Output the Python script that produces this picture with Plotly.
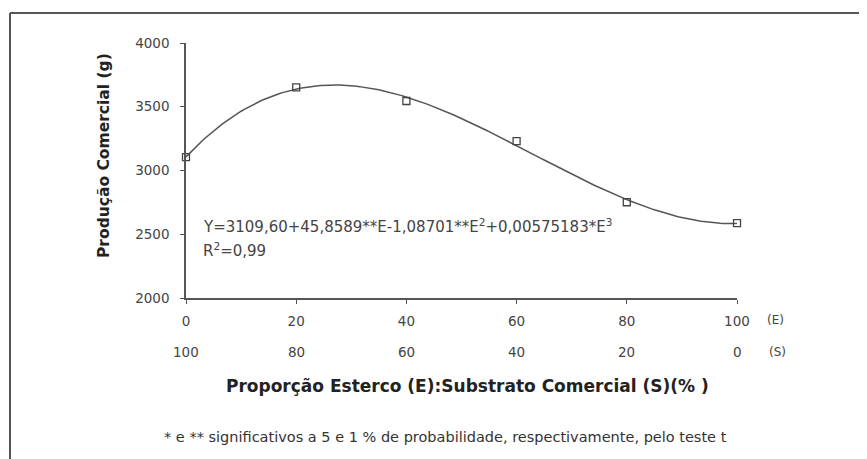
import numpy as np
import plotly.graph_objects as go

# Data
esterco = [0, 20, 40, 60, 80, 100]          # (E) %
substrato = [100, 80, 60, 40, 20, 0]        # (S) %
producao = [3105, 3652, 3545, 3231, 2751, 2588]  # Produção comercial (g)
y_ticks = [2000, 2500, 3000, 3500, 4000]

equation = "Y=3109,60+45,8589**E-1,08701**E<sup>2</sup>+0,00575183*E<sup>3</sup>"
r2_text = "R<sup>2</sup>=0,99"
x_title = "Proporção Esterco (E):Substrato Comercial (S)(% )"
y_title = "Produção Comercial (g)"
footnote = "* e ** significativos a 5 e 1 % de probabilidade, respectivamente, pelo teste t"

# Cubic trendline fitted to the data
coef = np.polyfit(esterco, producao, 3)
xf = np.linspace(0, 100, 201)
yf = np.polyval(coef, xf)

OFF = 8  # page body margin
W, H = 867 - OFF, 459 - OFF
# plot area in reference pixels: x 186..737, y 43..298
L, R, T, B = 186 - OFF, 867 - 737, 43 - OFF, 459 - 298
pw, ph = W - L - R, H - T - B

def px(x):
    return (x - OFF - L) / pw

def py(y):
    return (H - B - (y - OFF)) / ph

fig = go.Figure()
fig.add_trace(go.Scatter(x=xf, y=yf, mode="lines",
                         line=dict(color="#555555", width=1.5),
                         hoverinfo="skip", showlegend=False))
fig.add_trace(go.Scatter(x=esterco, y=producao, mode="markers",
                         marker=dict(symbol="square-open", size=7,
                                     color="#444444", line=dict(width=1.3)),
                         cliponaxis=False, showlegend=False))

font_fam = "DejaVu Sans"
tick_col = "#444444"
tick_size = 13.5

def ann(x, y, text, size, color=tick_col, xanchor="center", xref="paper", **kw):
    return dict(x=x, y=y, xref=xref, yref="paper", text=text, showarrow=False,
                xanchor=xanchor, yanchor="middle",
                font=dict(family=font_fam, size=size, color=color), **kw)

annotations = []
for xv, s in zip(esterco, substrato):
    annotations.append(ann(xv, py(352), str(s), tick_size, xref="x"))
annotations += [
    ann(px(775), py(320), "(E)", 12),
    ann(px(777), py(352), "(S)", 12),
    ann(px(467), py(386), "<b>" + x_title + "</b>", 17, color="#222222"),
    ann(px(104), py(156), "<b>" + y_title + "</b>", 15.5, color="#222222", textangle=-90),
    ann(px(201), py(226), equation, 15, xanchor="left"),
    ann(px(201), py(250), r2_text, 15, xanchor="left"),
    ann(px(445), py(437), footnote, 14.5, color="#333333"),
]

shapes = [
    dict(type="line", xref="paper", yref="paper", x0=px(10), x1=px(866),
         y0=py(13), y1=py(13), line=dict(color="#555555", width=2)),
    dict(type="line", xref="paper", yref="paper", x0=px(10), x1=px(10),
         y0=py(13), y1=py(470), line=dict(color="#555555", width=2)),
]

fig.update_layout(
    width=W, height=H,
    margin=dict(l=L, r=R, t=T, b=B),
    paper_bgcolor="white", plot_bgcolor="white",
    xaxis=dict(range=[0, 100], tickvals=esterco, ticktext=[str(e) for e in esterco],
               showgrid=False, zeroline=False, showline=True,
               linecolor="#555555", linewidth=1.5,
               ticks="outside", ticklen=4, tickcolor="#555555",
               tickfont=dict(family=font_fam, size=tick_size, color=tick_col),
               ticklabelstandoff=6),
    yaxis=dict(range=[2000, 4000], tickvals=y_ticks,
               showgrid=False, zeroline=False, showline=True,
               linecolor="#555555", linewidth=1.5,
               ticks="outside", ticklen=4, tickcolor="#555555",
               tickfont=dict(family=font_fam, size=tick_size, color=tick_col),
               ticklabelstandoff=8),
    annotations=annotations,
    shapes=shapes,
    showlegend=False,
)

fig.write_html("out.html")
